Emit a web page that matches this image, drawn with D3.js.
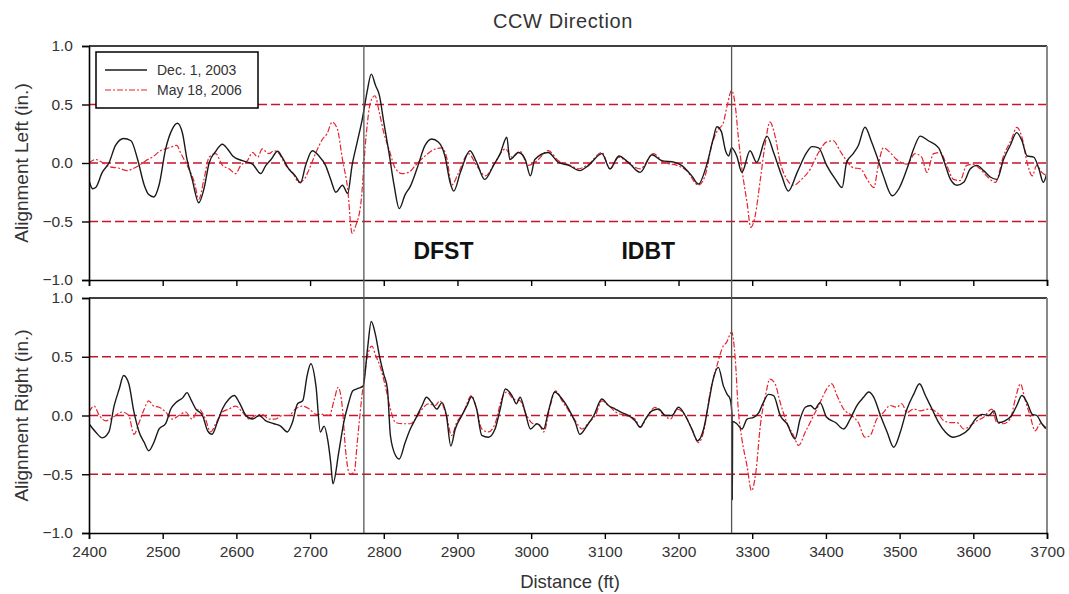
<!DOCTYPE html>
<html>
<head>
<meta charset="utf-8">
<script src="https://cdn.jsdelivr.net/npm/d3@7"></script>
<style>
  html, body { margin: 0; padding: 0; background: #fff; }
  svg { display: block; font-family: "Liberation Sans", Arial, sans-serif; }
</style>
</head>
<body>
<svg id="chart" width="1069" height="594"></svg>
<script>
// ---------------- DATA ----------------
const titleText = "CCW Direction";
const seriesNames = ["Dec. 1, 2003", "May 18, 2006"];
const panelTitles = ["Alignment Left (in.)", "Alignment Right (in.)"];
const xTitle = "Distance (ft)";
const xTicks = [2400, 2500, 2600, 2700, 2800, 2900, 3000, 3100, 3200, 3300, 3400, 3500, 3600, 3700];
const yTicks = [-1.0, -0.5, 0.0, 0.5, 1.0];
const refLevels = [-0.5, 0.0, 0.5];
const markerDistances = [2773, 3272];
const markerLabels = [{text: "DFST", x: 2881}, {text: "IDBT", x: 3159}];

// Alignment Left, Dec. 1, 2003 [distance ft, value in.]
const leftDec2003 = [[2400,-0.15],[2405,-0.22],[2409,-0.21],[2418,-0.08],[2427,0.0],[2436,0.15],[2447,0.21],[2457,0.19],[2466,0.03],[2475,-0.19],[2481,-0.27],[2488,-0.29],[2495,-0.19],[2504,0.12],[2513,0.29],[2520,0.34],[2527,0.25],[2533,0.03],[2540,-0.14],[2549,-0.34],[2556,-0.22],[2563,0.0],[2572,0.10],[2581,0.16],[2588,0.12],[2595,0.06],[2608,0.02],[2622,-0.01],[2633,-0.09],[2640,-0.02],[2647,0.03],[2656,0.10],[2662,0.05],[2671,-0.05],[2680,-0.11],[2687,-0.17],[2694,-0.02],[2703,0.105],[2712,0.06],[2721,-0.02],[2728,-0.14],[2735,-0.25],[2744,-0.19],[2751,-0.26],[2757,-0.02],[2764,0.18],[2771,0.38],[2778,0.63],[2783,0.76],[2789,0.66],[2794,0.58],[2800,0.35],[2807,0.09],[2814,-0.19],[2821,-0.39],[2829,-0.27],[2836,-0.2],[2845,-0.05],[2856,0.15],[2865,0.205],[2874,0.18],[2883,0.06],[2890,-0.165],[2895,-0.24],[2904,-0.08],[2917,0.105],[2926,0.005],[2937,-0.14],[2949,-0.02],[2958,0.08],[2967,0.22],[2971,0.03],[2983,0.09],[2992,0.03],[2999,-0.11],[3005,0.03],[3023,0.09],[3037,0.005],[3051,-0.02],[3066,-0.065],[3078,-0.02],[3096,0.08],[3107,-0.05],[3119,0.06],[3132,0.005],[3148,-0.08],[3164,0.07],[3177,0.02],[3195,0.005],[3204,-0.02],[3218,-0.11],[3227,-0.18],[3238,-0.02],[3247,0.205],[3252,0.31],[3258,0.27],[3264,0.1],[3268,0.06],[3272,0.13],[3279,0.06],[3286,-0.08],[3297,0.105],[3306,0.005],[3320,0.23],[3329,0.09],[3340,-0.11],[3349,-0.24],[3361,-0.08],[3374,0.09],[3381,0.14],[3390,0.13],[3401,-0.02],[3413,-0.14],[3422,-0.21],[3428,0.005],[3437,0.08],[3444,0.15],[3453,0.305],[3462,0.18],[3469,0.06],[3478,-0.11],[3490,-0.28],[3499,-0.22],[3510,-0.05],[3519,0.12],[3528,0.23],[3539,0.19],[3553,0.13],[3560,0.02],[3569,-0.14],[3578,-0.19],[3587,-0.165],[3596,-0.05],[3605,-0.02],[3614,-0.065],[3623,-0.12],[3632,-0.14],[3641,0.03],[3650,0.15],[3659,0.26],[3666,0.19],[3673,0.06],[3682,0.05],[3689,-0.05],[3695,-0.165],[3700,-0.08]];

// Alignment Left, May 18, 2006
const leftMay2006 = [[2400,0.0],[2409,0.03],[2418,0.005],[2427,-0.03],[2441,-0.045],[2452,-0.065],[2459,-0.05],[2468,-0.02],[2477,0.02],[2486,0.05],[2497,0.105],[2509,0.13],[2519,0.15],[2524,0.09],[2533,-0.02],[2543,-0.165],[2549,-0.31],[2556,-0.14],[2563,0.05],[2572,0.08],[2581,-0.02],[2590,-0.05],[2599,-0.09],[2606,-0.02],[2615,0.02],[2622,0.09],[2629,0.05],[2635,0.12],[2644,0.08],[2651,0.105],[2658,0.08],[2667,-0.02],[2676,-0.08],[2685,-0.165],[2692,-0.14],[2699,-0.05],[2708,0.09],[2717,0.205],[2723,0.25],[2730,0.35],[2737,0.29],[2744,0.03],[2751,-0.22],[2757,-0.6],[2762,-0.535],[2769,-0.34],[2776,0.23],[2782,0.52],[2788,0.575],[2794,0.43],[2800,0.26],[2807,0.12],[2816,-0.05],[2825,-0.09],[2834,-0.08],[2843,-0.02],[2856,0.06],[2870,0.12],[2879,0.13],[2886,0.03],[2892,-0.19],[2901,-0.09],[2915,0.08],[2926,-0.02],[2938,-0.11],[2951,0.005],[2965,0.12],[2974,0.05],[2985,0.1],[2996,-0.02],[3008,0.02],[3023,0.105],[3037,0.02],[3053,-0.02],[3064,-0.05],[3078,-0.01],[3096,0.09],[3107,-0.05],[3119,0.05],[3134,-0.01],[3148,-0.05],[3166,0.08],[3180,0.005],[3198,-0.02],[3211,-0.065],[3227,-0.19],[3236,-0.11],[3245,0.15],[3254,0.29],[3260,0.33],[3266,0.49],[3272,0.62],[3277,0.49],[3281,0.23],[3286,-0.05],[3293,-0.34],[3298,-0.55],[3304,-0.45],[3311,-0.14],[3318,0.18],[3324,0.35],[3331,0.23],[3338,0.005],[3347,-0.14],[3356,-0.19],[3367,-0.14],[3379,-0.05],[3390,0.09],[3401,0.18],[3410,0.19],[3419,0.105],[3428,0.02],[3437,-0.04],[3447,-0.05],[3456,-0.14],[3465,-0.21],[3471,-0.02],[3478,0.13],[3487,0.09],[3496,0.03],[3510,-0.01],[3521,0.08],[3530,0.05],[3537,-0.08],[3546,0.08],[3555,0.09],[3564,-0.02],[3573,-0.14],[3582,-0.15],[3591,-0.02],[3600,-0.01],[3609,-0.05],[3618,-0.11],[3630,-0.165],[3641,0.06],[3652,0.205],[3659,0.305],[3666,0.22],[3673,0.005],[3680,-0.11],[3686,-0.02],[3693,-0.08],[3700,-0.11]];

// Alignment Right, Dec. 1, 2003
const rightDec2003 = [[2400,-0.07],[2409,-0.14],[2418,-0.19],[2427,-0.14],[2434,0.08],[2441,0.225],[2447,0.34],[2454,0.27],[2461,0.03],[2468,-0.14],[2475,-0.23],[2481,-0.30],[2488,-0.23],[2495,-0.115],[2504,-0.07],[2511,0.055],[2518,0.11],[2527,0.15],[2533,0.195],[2538,0.14],[2545,0.055],[2554,0.0],[2561,-0.13],[2567,-0.16],[2574,-0.06],[2581,0.055],[2590,0.14],[2597,0.17],[2604,0.11],[2613,0.0],[2622,-0.03],[2631,0.0],[2640,-0.045],[2651,-0.07],[2660,-0.09],[2669,-0.14],[2676,-0.06],[2683,0.1],[2690,0.125],[2696,0.34],[2701,0.44],[2708,0.25],[2714,-0.14],[2719,-0.09],[2724,-0.21],[2728,-0.40],[2731,-0.58],[2739,-0.31],[2746,-0.05],[2752,0.1],[2758,0.21],[2765,0.23],[2772,0.25],[2778,0.57],[2783,0.8],[2789,0.68],[2794,0.51],[2800,0.35],[2805,0.225],[2809,-0.17],[2816,-0.34],[2821,-0.37],[2829,-0.23],[2836,-0.115],[2843,-0.03],[2852,0.085],[2858,0.155],[2865,0.11],[2872,0.055],[2879,0.11],[2885,0.0],[2891,-0.26],[2897,-0.115],[2906,0.0],[2913,0.085],[2919,0.16],[2926,0.055],[2933,-0.17],[2942,-0.185],[2951,-0.115],[2958,0.055],[2965,0.225],[2974,0.17],[2980,0.1],[2985,0.155],[2992,0.025],[2999,-0.115],[3008,-0.07],[3017,-0.115],[3023,0.025],[3032,0.2],[3042,0.14],[3051,0.055],[3060,-0.06],[3066,-0.16],[3076,-0.085],[3085,0.0],[3096,0.14],[3105,0.085],[3114,0.055],[3123,0.025],[3132,0.0],[3141,-0.045],[3148,-0.1],[3155,-0.03],[3164,0.04],[3173,0.055],[3182,0.0],[3191,0.0],[3200,0.07],[3209,0.0],[3218,-0.115],[3226,-0.215],[3234,-0.115],[3241,0.11],[3247,0.31],[3254,0.41],[3261,0.25],[3266,0.18],[3270,0.14],[3272.6,0.0],[3273,-0.72],[3273.4,-0.05],[3279,-0.07],[3286,-0.115],[3293,-0.03],[3302,-0.015],[3309,0.025],[3315,0.11],[3322,0.18],[3329,0.17],[3338,0.0],[3347,-0.07],[3358,-0.2],[3365,-0.03],[3372,0.07],[3379,0.085],[3385,0.055],[3392,0.11],[3401,-0.015],[3413,-0.06],[3424,-0.115],[3433,-0.03],[3442,0.085],[3451,0.155],[3458,0.2],[3465,0.155],[3474,0.0],[3483,-0.14],[3492,-0.27],[3501,-0.14],[3510,0.055],[3519,0.18],[3527,0.27],[3535,0.17],[3544,0.055],[3553,-0.06],[3562,-0.14],[3573,-0.185],[3582,-0.17],[3594,-0.115],[3603,-0.03],[3612,0.01],[3621,0.0],[3628,0.04],[3634,-0.06],[3643,-0.045],[3652,0.0],[3659,0.085],[3666,0.17],[3673,0.11],[3680,0.01],[3686,0.0],[3693,-0.07],[3700,-0.115]];

// Alignment Right, May 18, 2006
const rightMay2006 = [[2400,0.03],[2407,0.08],[2414,0.0],[2423,-0.045],[2429,-0.03],[2436,0.0],[2445,0.03],[2454,0.0],[2461,-0.16],[2468,-0.06],[2475,0.055],[2481,0.125],[2488,0.08],[2495,0.07],[2504,0.03],[2513,-0.03],[2522,0.0],[2531,0.03],[2540,-0.03],[2549,0.055],[2558,-0.03],[2565,-0.14],[2572,-0.07],[2581,0.03],[2590,0.055],[2599,0.08],[2608,0.03],[2617,-0.03],[2626,0.0],[2635,0.01],[2644,-0.03],[2653,-0.03],[2662,0.0],[2671,0.0],[2680,0.055],[2690,0.08],[2699,0.055],[2708,0.01],[2717,0.01],[2726,0.0],[2733,0.14],[2738,0.24],[2744,0.055],[2748,-0.285],[2754,-0.5],[2760,-0.48],[2764,-0.23],[2771,0.2],[2778,0.51],[2784,0.59],[2789,0.51],[2796,0.4],[2803,0.225],[2809,0.055],[2816,-0.06],[2825,-0.07],[2836,-0.07],[2843,-0.03],[2852,0.055],[2861,0.1],[2870,0.085],[2876,0.125],[2885,0.0],[2892,-0.17],[2899,-0.06],[2908,0.025],[2919,0.17],[2926,0.055],[2933,-0.115],[2942,-0.14],[2951,-0.07],[2960,0.14],[2967,0.2],[2976,0.14],[2985,0.125],[2994,0.0],[3003,-0.07],[3010,-0.07],[3017,-0.14],[3026,0.085],[3033,0.21],[3042,0.125],[3051,0.04],[3060,-0.045],[3069,-0.115],[3078,-0.06],[3087,0.0],[3096,0.125],[3105,0.085],[3116,0.025],[3128,0.0],[3141,-0.03],[3148,-0.1],[3157,-0.015],[3168,0.07],[3177,0.025],[3189,-0.03],[3198,0.055],[3209,0.0],[3218,-0.115],[3227,-0.23],[3234,-0.14],[3243,0.2],[3252,0.42],[3261,0.595],[3265,0.62],[3272,0.71],[3277,0.48],[3281,0.055],[3286,-0.2],[3293,-0.43],[3299,-0.64],[3305,-0.48],[3311,-0.085],[3318,0.17],[3324,0.31],[3331,0.27],[3338,0.11],[3347,-0.06],[3356,-0.17],[3363,-0.255],[3372,-0.14],[3381,-0.03],[3392,0.11],[3401,0.225],[3408,0.27],[3415,0.17],[3424,0.055],[3435,0.0],[3444,-0.06],[3453,-0.185],[3460,-0.17],[3469,-0.03],[3478,0.025],[3487,0.085],[3496,0.07],[3503,0.1],[3510,0.025],[3519,0.055],[3528,0.04],[3539,0.055],[3551,0.025],[3560,-0.045],[3569,-0.06],[3578,-0.06],[3587,-0.115],[3596,-0.085],[3605,-0.045],[3614,-0.015],[3625,0.055],[3632,-0.06],[3641,-0.07],[3650,-0.03],[3657,0.14],[3664,0.27],[3670,0.14],[3677,0.0],[3684,-0.13],[3691,-0.07],[3698,-0.115]];

// ---------------- DRAW ----------------
const svg = d3.select("#chart");
const left = 89, right = 1047;
const panels = [
  {top: 46, bottom: 280, title: panelTitles[0], dec: leftDec2003, may: leftMay2006, showX: false},
  {top: 298, bottom: 533, title: panelTitles[1], dec: rightDec2003, may: rightMay2006, showX: true}
];
const x = d3.scaleLinear().domain([2400, 3700]).range([left, right]);
const refColor = "#c8142c";
const redColor = "#e8222e";
const textColor = "#333";

// title
svg.append("text").attr("x", 563).attr("y", 28).attr("text-anchor", "middle")
  .attr("font-size", 20).attr("fill", textColor).attr("letter-spacing", 0.6).text(titleText);

panels.forEach((p, i) => {
  const y = d3.scaleLinear().domain([-1, 1]).range([p.bottom, p.top]);
  const g = svg.append("g");
  const clipId = "clip" + i;
  svg.append("clipPath").attr("id", clipId).append("rect")
    .attr("x", left).attr("y", p.top).attr("width", right - left).attr("height", p.bottom - p.top);

  // reference dashed lines
  g.selectAll(".ref").data(refLevels).enter().append("line")
    .attr("x1", left).attr("x2", right)
    .attr("y1", d => y(d)).attr("y2", d => y(d))
    .attr("stroke", refColor).attr("stroke-width", 1.6).attr("stroke-dasharray", "9,4");

  const line = d3.line().curve(d3.curveMonotoneX).x(d => x(d[0])).y(d => y(d[1]));
  const dg = g.append("g").attr("clip-path", `url(#${clipId})`);
  dg.append("path").datum(p.may).attr("d", line).attr("fill", "none")
    .attr("stroke", redColor).attr("stroke-width", 1.2).attr("stroke-dasharray", "6,2,2,2");
  dg.append("path").datum(p.dec).attr("d", line).attr("fill", "none")
    .attr("stroke", "#1a1a1a").attr("stroke-width", 1.4);

  // frame: top black, right grey
  g.append("line").attr("x1", left).attr("x2", right).attr("y1", p.top).attr("y2", p.top)
    .attr("stroke", "#000").attr("stroke-width", 1.5);
  g.append("line").attr("x1", right).attr("x2", right).attr("y1", p.top).attr("y2", p.bottom)
    .attr("stroke", "#888").attr("stroke-width", 2);

  // axes
  const yAxis = d3.axisLeft(y).tickValues(yTicks).tickFormat(d3.format(".1f")).tickSizeOuter(0).tickSize(7).tickPadding(9);
  const ya = g.append("g").attr("transform", `translate(${left},0)`).call(yAxis);
  const xAxis = d3.axisBottom(x).tickValues(xTicks).tickSizeOuter(0).tickSize(6).tickPadding(7)
    .tickFormat(p.showX ? d3.format("d") : () => "");
  const xa = g.append("g").attr("transform", `translate(0,${p.bottom})`).call(xAxis);
  [ya, xa].forEach(a => {
    a.select(".domain").attr("stroke", "#000").attr("stroke-width", 1.6);
    a.selectAll(".tick line").attr("stroke", "#000").attr("stroke-width", 1.4);
    a.selectAll("text").attr("font-size", 15.5).attr("fill", textColor)
      .attr("font-family", "'Liberation Sans', Arial, sans-serif");
  });

  // y title
  svg.append("text").attr("transform", `translate(28,${(p.top + p.bottom) / 2}) rotate(-90)`)
    .attr("text-anchor", "middle").attr("font-size", 19).attr("fill", textColor).text(p.title);
});

// marker vertical lines spanning both panels
svg.selectAll(".marker").data(markerDistances).enter().append("line")
  .attr("x1", d => x(d)).attr("x2", d => x(d)).attr("y1", 46).attr("y2", 533)
  .attr("stroke", "#555").attr("stroke-width", 1.3);

// marker labels
svg.selectAll(".mlabel").data(markerLabels).enter().append("text")
  .attr("x", d => x(d.x)).attr("y", 259).attr("text-anchor", "middle")
  .attr("font-size", 23).attr("font-weight", "bold").attr("fill", "#111").text(d => d.text);

// x title
svg.append("text").attr("x", 570).attr("y", 588).attr("text-anchor", "middle")
  .attr("font-size", 18.5).attr("fill", textColor).text(xTitle);

// legend
const lg = svg.append("g");
lg.append("rect").attr("x", 96).attr("y", 52).attr("width", 162).attr("height", 56)
  .attr("fill", "#fff").attr("stroke", "#000").attr("stroke-width", 1.5);
const legendItems = [
  {name: seriesNames[0], color: "#1a1a1a", dash: null, w: 1.4},
  {name: seriesNames[1], color: redColor, dash: "6,2,2,2", w: 1.2}
];
legendItems.forEach((it, k) => {
  const yy = 70 + k * 20;
  const l = lg.append("line").attr("x1", 105).attr("x2", 147).attr("y1", yy).attr("y2", yy)
    .attr("stroke", it.color).attr("stroke-width", it.w);
  if (it.dash) l.attr("stroke-dasharray", it.dash);
  lg.append("text").attr("x", 157).attr("y", yy + 5).attr("font-size", 14).attr("fill", textColor).text(it.name);
});
</script>
</body>
</html>
